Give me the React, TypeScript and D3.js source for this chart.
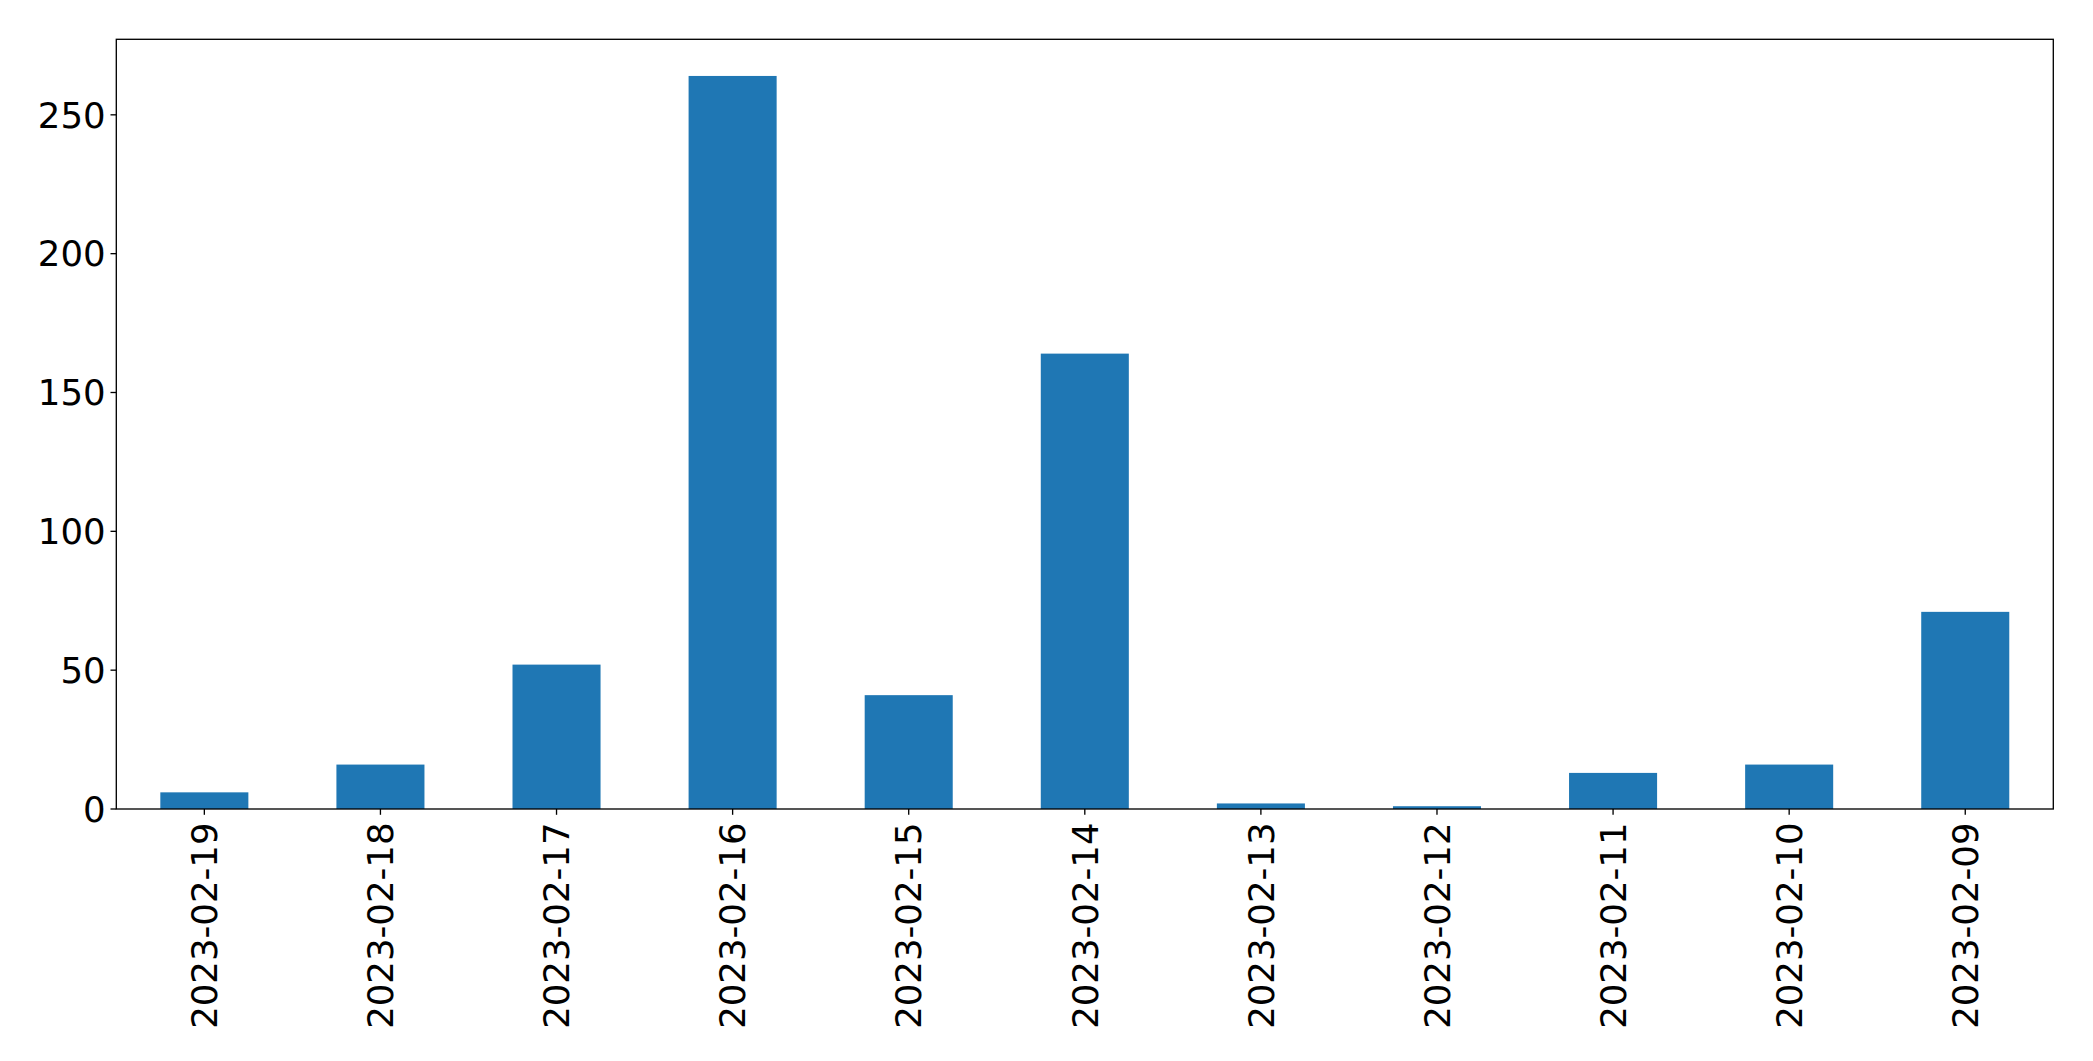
import React from "react";
import * as d3 from "d3";

const categories = [
  "2023-02-19", "2023-02-18", "2023-02-17", "2023-02-16", "2023-02-15", "2023-02-14",
  "2023-02-13", "2023-02-12", "2023-02-11", "2023-02-10", "2023-02-09",
];
const values = [6, 16, 52, 264, 41, 164, 2, 1, 13, 16, 71];
const yTicks = [0, 50, 100, 150, 200, 250];

const W = 2093;
const H = 1061;
const left = 116.3;
const right = 2053.3;
const top = 39.3;
const bottom = 809;
const font = "'DejaVu Sans', sans-serif";
const fs = 35.5;
const tickLen = 5.8;
const padY = 4.9;
const padX = 7.7;

export default function App() {
  const x = d3.scaleBand<string>().domain(categories).range([left, right]).paddingInner(0.5).paddingOuter(0.25);
  const yMax = (d3.max(values) as number) * 1.05;
  const y = d3.scaleLinear().domain([0, yMax]).range([bottom, top]);

  return (
    <svg width={W} height={H} style={{ position: "absolute", left: 0, top: 0, background: "#fff" }}>
      <rect x={0} y={0} width={W} height={H} fill="#fff" />
      {categories.map((c, i) => (
        <rect
          key={c}
          x={x(c)}
          y={y(values[i])}
          width={x.bandwidth()}
          height={y(0) - y(values[i])}
          fill="#1f77b4"
        />
      ))}
      <rect x={left} y={top} width={right - left} height={bottom - top} fill="none" stroke="#000" strokeWidth={1.33} />
      {yTicks.map((t) => (
        <g key={t}>
          <line x1={left - tickLen} x2={left} y1={y(t)} y2={y(t)} stroke="#000" strokeWidth={1.33} />
          <text
            x={left - tickLen - padY}
            y={y(t)}
            dy="0.36em"
            textAnchor="end"
            fontFamily={font}
            fontSize={fs}
            fill="#000"
          >
            {t}
          </text>
        </g>
      ))}
      {categories.map((c) => {
        const cx = (x(c) as number) + x.bandwidth() / 2;
        const ty = bottom + tickLen + padX;
        return (
          <g key={c}>
            <line x1={cx} x2={cx} y1={bottom} y2={bottom + tickLen} stroke="#000" strokeWidth={1.33} />
            <text
              transform={`translate(${cx},${ty}) rotate(-90)`}
              dy="0.36em"
              textAnchor="end"
              fontFamily={font}
              fontSize={fs}
              fill="#000"
            >
              {c}
            </text>
          </g>
        );
      })}
    </svg>
  );
}
